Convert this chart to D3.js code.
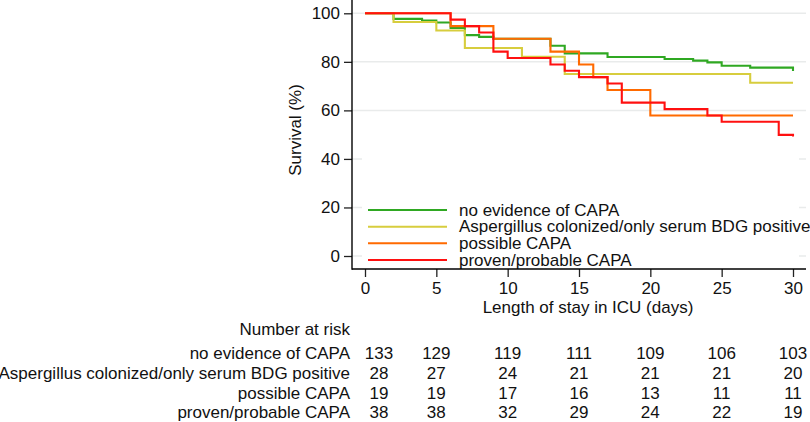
<!DOCTYPE html>
<html>
<head>
<meta charset="utf-8">
<script src="https://cdn.jsdelivr.net/npm/d3@7"></script>
<style>
  html, body { margin: 0; padding: 0; background: #fff; }
  svg { display: block; font-family: "Liberation Sans", Arial, sans-serif; }
</style>
</head>
<body>
<svg id="chart" width="810" height="422"></svg>
<script>
// ---- data ----
const seriesNames = [
  "no evidence of CAPA",
  "Aspergillus colonized/only serum BDG positive",
  "possible CAPA",
  "proven/probable CAPA"
];
const seriesColors = ["#2fa822", "#d7cd3e", "#ff6a00", "#ff1010"];

const greenDays   = [0, 2, 4, 5, 6, 7, 8, 9, 13, 14, 17, 21, 23, 24, 25, 27, 30];
const greenValues = [100, 97.7, 97.0, 96.2, 94.0, 91.0, 90.3, 89.5, 86.6, 83.5, 82.0, 81.2, 80.5, 79.8, 78.4, 77.6, 76.2];
const yellowDays   = [0, 2, 5, 7, 11, 14, 27, 30];
const yellowValues = [100, 96.4, 92.9, 85.7, 82.1, 75.0, 71.4, 71.4];
const orangeDays   = [0, 6, 9, 13, 15, 16, 17, 20, 30];
const orangeValues = [100, 94.7, 89.5, 84.2, 78.9, 73.7, 68.4, 57.9, 57.9];
const redDays   = [0, 6, 7, 8, 9, 10, 13, 14, 15, 17, 18, 21, 24, 25, 29, 30];
const redValues = [100, 97.4, 94.7, 92.1, 84.2, 81.6, 78.9, 76.3, 73.7, 71.1, 63.2, 60.5, 57.9, 55.3, 49.9, 49.2];

const xTicks = [0, 5, 10, 15, 20, 25, 30];
const yTicks = [0, 20, 40, 60, 80, 100];

const riskTitle = "Number at risk";
const riskGreen  = [133, 129, 119, 111, 109, 106, 103];
const riskYellow = [28, 27, 24, 21, 21, 21, 20];
const riskOrange = [19, 19, 17, 16, 13, 11, 11];
const riskRed    = [38, 38, 32, 29, 24, 22, 19];

const xTitle = "Length of stay in ICU (days)";
const yTitle = "Survival (%)";

// ---- build ----
const curves = [
  {days: greenDays, values: greenValues},
  {days: yellowDays, values: yellowValues},
  {days: orangeDays, values: orangeValues},
  {days: redDays, values: redValues}
].map((s, i) => ({name: seriesNames[i], color: seriesColors[i],
  pts: s.days.map((d, j) => [d, s.values[j]])}));
const riskRows = [riskGreen, riskYellow, riskOrange, riskRed];

const svg = d3.select("#chart");
const textColor = "#111";
const fs = 17;

const x = d3.scaleLinear().domain([0, 30]).range([365, 793]);
const y = d3.scaleLinear().domain([0, 100]).range([256, 13.3]);

const plotLeft = 352, plotRight = 806, plotBottom = 269, plotTop = 0;

// gridlines
svg.append("g").selectAll("line").data(yTicks).join("line")
  .attr("x1", plotLeft).attr("x2", plotRight)
  .attr("y1", d => y(d)).attr("y2", d => y(d))
  .attr("stroke", "#e9ebeb").attr("stroke-width", 1.5);

// curves
const line = d3.line().x(d => x(d[0])).y(d => y(d[1])).curve(d3.curveStepAfter);
svg.append("g").selectAll("path").data(curves).join("path")
  .attr("d", d => line(d.pts))
  .attr("fill", "none")
  .attr("stroke", d => d.color)
  .attr("stroke-width", 2.1);

// legend (white box covering grid)
const legendRowY = [210, 226.7, 243.3, 260];
svg.append("rect").attr("x", 362).attr("y", 150).attr("width", 437).attr("height", 118).attr("fill", "#fff");
const lg = svg.append("g").selectAll("g").data(curves).join("g")
  .attr("transform", (d, i) => `translate(0,${legendRowY[i]})`);
lg.append("line").attr("x1", 368).attr("x2", 447).attr("y1", 0).attr("y2", 0)
  .attr("stroke", d => d.color).attr("stroke-width", 2.1);
lg.append("text").attr("x", 459).attr("y", 5.5).attr("font-size", fs).attr("fill", textColor)
  .text(d => d.name);

// axes
const yAxis = d3.axisLeft(y).tickValues(yTicks).tickSize(8).tickPadding(4).tickSizeOuter(0);
const gy = svg.append("g").attr("transform", `translate(${plotLeft},0)`).call(yAxis);
gy.select(".domain").remove();
gy.selectAll(".tick line").attr("stroke", "#222").attr("stroke-width", 1.3);
gy.selectAll(".tick text").attr("font-size", fs).attr("fill", textColor).attr("font-family", "Liberation Sans, Arial, sans-serif");

const xAxis = d3.axisBottom(x).tickValues(xTicks).tickSize(8).tickPadding(5).tickSizeOuter(0);
const gx = svg.append("g").attr("transform", `translate(0,${plotBottom})`).call(xAxis);
gx.select(".domain").remove();
gx.selectAll(".tick line").attr("stroke", "#222").attr("stroke-width", 1.3);
gx.selectAll(".tick text").attr("font-size", fs).attr("fill", textColor).attr("font-family", "Liberation Sans, Arial, sans-serif");

// axis lines
svg.append("line").attr("x1", plotLeft).attr("x2", plotLeft).attr("y1", plotTop).attr("y2", plotBottom + 0.7)
  .attr("stroke", "#000").attr("stroke-width", 1.4);
svg.append("line").attr("x1", plotLeft).attr("x2", plotRight).attr("y1", plotBottom).attr("y2", plotBottom)
  .attr("stroke", "#000").attr("stroke-width", 1.4);

// axis titles
svg.append("text").attr("x", 588).attr("y", 313).attr("text-anchor", "middle")
  .attr("font-size", fs).attr("fill", textColor).text(xTitle);
svg.append("text").attr("transform", "translate(301,130) rotate(-90)").attr("text-anchor", "middle")
  .attr("font-size", fs).attr("fill", textColor).text(yTitle);

// risk table
const riskRowY = [359.3, 379, 398.7, 418.3];
svg.append("text").attr("x", 350).attr("y", 335).attr("text-anchor", "end")
  .attr("font-size", fs).attr("fill", textColor).text(riskTitle);
const rg = svg.append("g").selectAll("g").data(riskRows).join("g")
  .attr("transform", (d, i) => `translate(0,${riskRowY[i]})`);
rg.append("text").attr("x", 350).attr("y", 0).attr("text-anchor", "end")
  .attr("font-size", fs).attr("fill", textColor).text((d, i) => seriesNames[i]);
rg.selectAll("text.num").data(d => d.map((v, k) => ({v, day: xTicks[k]}))).join("text")
  .attr("class", "num")
  .attr("x", d => d.day === 0 ? x(d.day) + 14 : x(d.day))
  .attr("y", 0).attr("text-anchor", "middle")
  .attr("font-size", fs).attr("fill", textColor).text(d => d.v);
</script>
</body>
</html>
